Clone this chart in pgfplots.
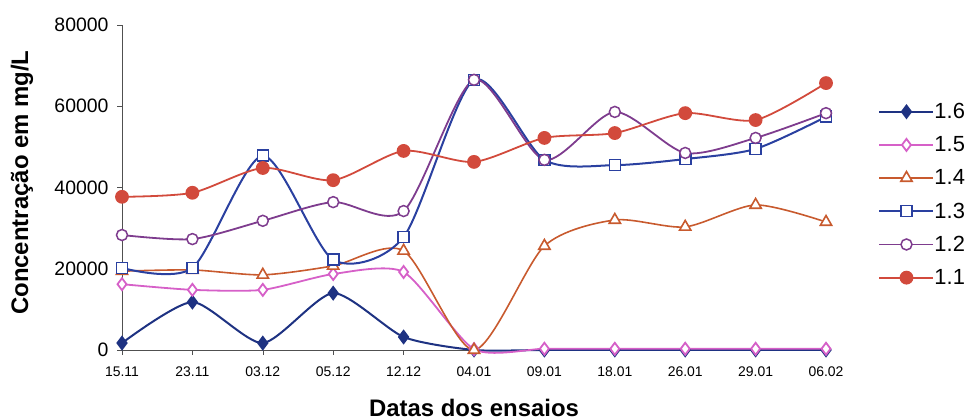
\documentclass[border=0pt]{standalone}
\usepackage{pgfplots}
\pgfplotsset{compat=1.18}
\usepackage{fontspec}
\setmainfont{Liberation Sans}

\definecolor{c16}{HTML}{1E3282}
\definecolor{c15}{HTML}{D660C8}
\definecolor{c14}{HTML}{C85A2E}
\definecolor{c13}{HTML}{2A40A0}
\definecolor{c12}{HTML}{7E3C8E}
\definecolor{c11}{HTML}{D24A3C}
\definecolor{axisgrey}{HTML}{505050}

\begin{document}
\begin{tikzpicture}
\begin{axis}[
  scale only axis,
  width=704bp, height=325bp,
  xmin=0, xmax=10, ymin=0, ymax=80000,
  axis x line=bottom, axis y line=left,
  axis line style={-, axisgrey, line width=0.8bp},
  tick align=outside,
  major tick length=5bp,
  tick style={axisgrey, line width=0.6bp},
  xtick={0,...,10},
  xticklabels={15.11,23.11,03.12,05.12,12.12,04.01,09.01,18.01,26.01,29.01,06.02},
  ytick={0,20000,40000,60000,80000},
  scaled y ticks=false,
  yticklabel style={/pgf/number format/1000 sep={},
    /pgf/number format/assume math mode=true,
    font=\fontsize{19.5}{22}\selectfont, xshift=-5bp},
  xticklabel style={font=\fontsize{14}{16}\selectfont, yshift=-8bp},
  xlabel={\textbf{Datas dos ensaios}},
  ylabel={\textbf{Concentração em mg/L}},
  xlabel style={font=\fontsize{24}{28}\selectfont, at={(axis description cs:0.5,-0.178)}, anchor=center},
  ylabel style={font=\fontsize{24}{28}\selectfont, at={(axis description cs:-0.142,0.515)}, anchor=center},
  clip=false,
  legend style={draw=none, fill=none, at={(1.07,0.478)}, anchor=west,
    font=\fontsize{22}{26}\selectfont, row sep=16.5bp,
    nodes={inner sep=0bp, outer sep=0bp}},
  legend cell align=left,
  legend image code/.code={%
    \draw[mark repeat=2, mark phase=2, sharp plot]
      plot coordinates {(0bp,0bp) (27bp,0bp) (54bp,0bp)};},
]
% 1.6
\addplot[c16, smooth, tension=0.4, line width=2bp, mark=diamond*, mark size=6bp,
  mark options={fill=c16, solid}] coordinates {
  (0,1700) (1,11800) (2,1700) (3,14000) (4,3200) (5,0)
  (6,0) (7,0) (8,0) (9,0) (10,0)};
% 1.5
\addplot[c15, smooth, tension=0.4, line width=1.8bp, mark=diamond*, mark size=6bp,
  mark options={fill=white, solid, line width=1.8bp}] coordinates {
  (0,16200) (1,14800) (2,14800) (3,18700) (4,19200) (5,200)
  (6,300) (7,300) (8,300) (9,300) (10,300)};
% 1.4
\addplot[c14, smooth, tension=0.45, line width=1.6bp, mark=triangle*, mark size=6.5bp,
  mark options={fill=white, solid, line width=1.6bp}] coordinates {
  (0,19400) (1,19700) (2,18500) (3,20700) (4,24400) (5,0)
  (6,25600) (7,32000) (8,30300) (9,35700) (10,31500)};
% 1.3
\addplot[c13, smooth, tension=0.45, line width=2bp, mark=square*, mark size=5.5bp,
  mark options={fill=white, solid, line width=1.6bp}] coordinates {
  (0,20200) (1,20200) (2,47800) (3,22200) (4,27800) (5,66500)
  (6,46800) (7,45500) (8,47000) (9,49500) (10,57400)};
% 1.2
\addplot[c12, smooth, tension=0.45, line width=1.8bp, mark=*, mark size=5.5bp,
  mark options={fill=white, solid, line width=1.5bp}] coordinates {
  (0,28300) (1,27300) (2,31800) (3,36400) (4,34200) (5,66500)
  (6,46800) (7,58600) (8,48500) (9,52200) (10,58300)};
% 1.1
\addplot[c11, smooth, tension=0.45, line width=1.8bp, mark=*, mark size=6bp,
  mark options={fill=c11, solid}] coordinates {
  (0,37700) (1,38700) (2,44800) (3,41800) (4,49000) (5,46300)
  (6,52200) (7,53400) (8,58300) (9,56600) (10,65700)};
\legend{1.6,1.5,1.4,1.3,1.2,1.1}
\path (rel axis cs:-0.1733,-0.2154) rectangle (rel axis cs:1.2031,1.0769);
\end{axis}
\end{tikzpicture}
\end{document}
